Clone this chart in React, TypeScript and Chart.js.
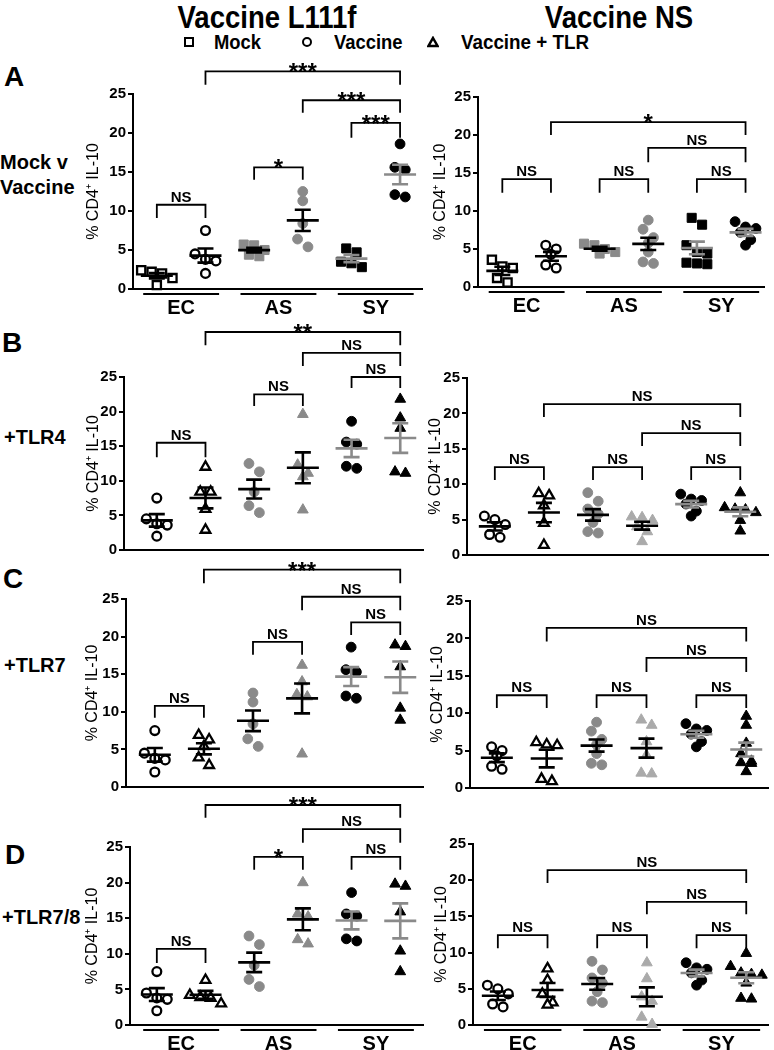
import React, { useEffect, useRef } from "react";
import { Chart, registerables } from "chart.js";

Chart.register(...registerables);

// ---------------- data ----------------
const categories = ["EC", "AS", "SY"];
const yTickValues = [0, 5, 10, 15, 20, 25];
const yAxisTitle = "% CD4\u207A IL-10";

// Vaccine L111f (left column)
const l111fMockEC = [2.2, 2.0, 2.4, 1.4, 0.5];
const l111fMockAS = [5.7, 5.6, 5.0, 4.4, 4.2];
const l111fMockSY = [5.2, 4.7, 3.5, 2.8, 3.3];
const l111fVacEC = [7.5, 4.5, 3.8, 3.6, 2.0];
const l111fVacAS = [12.5, 11.3, 8.4, 6.4, 5.4];
const l111fVacSY = [18.6, 15.6, 15.3, 11.8, 12.1];
const l111fTlr4EC = [12.0, 8.4, 8.4, 5.9, 2.9];
const l111fTlr4AS = [19.6, 12.3, 11.1, 10.6, 5.8];
const l111fTlr4SY = [21.8, 19.1, 17.6, 11.1, 11.3];
const l111fTlr7EC = [6.9, 6.3, 5.4, 3.9, 2.9];
const l111fTlr7AS = [16.2, 14.0, 12.3, 12.0, 4.4];
const l111fTlr7SY = [18.9, 18.7, 16.0, 10.5, 8.9];
const l111fTlr78EC = [6.3, 4.2, 3.9, 3.8, 3.0];
const l111fTlr78AS = [20.0, 15.6, 15.2, 11.4, 12.0];
const l111fTlr78SY = [19.8, 19.5, 15.9, 10.4, 7.5];

// Vaccine NS (right column)
const nsMockEC = [2.7, 2.5, 3.6, 1.2, 0.6];
const nsMockAS = [5.7, 5.5, 5.0, 4.6, 4.4];
const nsMockSY = [9.1, 8.2, 5.5, 4.6, 4.4, 3.2, 3.1, 3.0];
const nsVacEC = [5.0, 5.5, 4.3, 2.9, 2.5];
const nsVacAS = [8.8, 7.6, 6.5, 5.8, 4.6, 3.3, 3.1];
const nsVacSY = [8.6, 7.7, 7.9, 7.2, 6.2, 5.5];
const nsTlr4EC = [8.7, 8.4, 7.0, 4.5, 1.4];
const nsTlr4AS = [5.4, 5.3, 4.9, 4.0, 3.3, 1.9];
const nsTlr4SY = [8.8, 6.7, 6.5, 6.4, 6.0, 4.9, 3.4];
const nsTlr7EC = [5.7, 5.8, 6.1, 0.9, 1.2];
const nsTlr7AS = [9.1, 8.4, 6.2, 4.4, 2.0, 1.9];
const nsTlr7SY = [9.6, 8.4, 6.0, 4.6, 3.6, 3.4, 3.3, 2.2];
const nsTlr78EC = [7.8, 6.2, 4.3, 3.1, 2.8];
const nsTlr78AS = [8.6, 6.4, 3.9, 3.3, 1.1, 0.1];
const nsTlr78SY = [9.9, 8.1, 7.2, 7.0, 6.9, 5.8, 3.7, 3.6];

// significance brackets: [from group, to group, bar value, leg value, label]
type Bracket = [number, number, number, number, string];
const sigL111fA: Bracket[] = [[1, 2, 10.8, 9.1, "NS"], [3, 4, 15.6, 14.0, "*"], [5, 6, 21.3, 19.4, "***"], [4, 6, 24.2, 22.6, "***"], [2, 6, 27.9, 26.2, "***"]];
const sigNsA: Bracket[] = [[1, 2, 14.2, 12.4, "NS"], [3, 4, 14.2, 12.4, "NS"], [5, 6, 14.2, 12.4, "NS"], [4, 6, 18.3, 16.4, "NS"], [2, 6, 21.7, 20.0, "*"]];
const sigL111fB: Bracket[] = [[1, 2, 15.5, 13.4, "NS"], [3, 4, 22.5, 20.8, "NS"], [5, 6, 25.0, 23.4, "NS"], [4, 6, 28.5, 26.6, "NS"], [2, 6, 31.5, 29.6, "**"]];
const sigNsB: Bracket[] = [[1, 2, 12.4, 10.6, "NS"], [3, 4, 12.4, 10.6, "NS"], [5, 6, 12.4, 10.6, "NS"], [4, 6, 17.2, 15.4, "NS"], [2, 6, 21.3, 19.5, "NS"]];
const sigL111fC: Bracket[] = [[1, 2, 10.8, 9.2, "NS"], [3, 4, 19.3, 17.6, "NS"], [5, 6, 21.9, 20.2, "NS"], [4, 6, 25.3, 23.5, "NS"], [2, 6, 28.9, 27.1, "***"]];
const sigNsC: Bracket[] = [[1, 2, 12.4, 10.7, "NS"], [3, 4, 12.4, 10.7, "NS"], [5, 6, 12.4, 10.7, "NS"], [4, 6, 17.4, 15.5, "NS"], [2, 6, 21.4, 19.6, "NS"]];
const sigL111fD: Bracket[] = [[1, 2, 10.7, 8.7, "NS"], [3, 4, 23.6, 21.8, "*"], [5, 6, 23.6, 21.8, "NS"], [4, 6, 27.5, 25.6, "NS"], [2, 6, 30.9, 29.1, "***"]];
const sigNsD: Bracket[] = [[1, 2, 12.4, 10.6, "NS"], [3, 4, 12.4, 10.6, "NS"], [5, 6, 12.4, 10.6, "NS"], [4, 6, 17.0, 15.3, "NS"], [2, 6, 21.4, 19.6, "NS"]];

// ---------------- styles ----------------
const FONT = "'Liberation Sans', Arial, Helvetica, sans-serif";
type Shape = "rect" | "circle" | "triangle";
type Look = { fill: string; stroke: string; open: boolean; bar: string };
const OPEN: Look = { fill: "#ffffff", stroke: "#000000", open: true, bar: "#000000" };
const GRAY: Look = { fill: "#8a8a8a", stroke: "#8a8a8a", open: false, bar: "#000000" };
const LIGHT: Look = { fill: "#aaaaaa", stroke: "#aaaaaa", open: false, bar: "#000000" };
const BLACK: Look = { fill: "#000000", stroke: "#000000", open: false, bar: "#8a8a8a" };

type Group = { values: number[]; shape: Shape; look: Look };
type Geo = { L: number; T: number; R: number; B: number; p1: number; p6: number; titleX: number; top: number; bottom: number };
type PanelSpec = { geo: Geo; groups: Group[]; brackets: Bracket[]; groupLabels: boolean };

const g = (values: number[], shape: Shape, look: Look): Group => ({ values, shape, look });

const panels: PanelSpec[] = [
  {
    geo: { L: 133, T: 94, R: 425, B: 289, p1: 157, p6: 402, titleX: 93, top: 42, bottom: 318 },
    groups: [g(l111fMockEC, "rect", OPEN), g(l111fVacEC, "circle", OPEN), g(l111fMockAS, "rect", GRAY), g(l111fVacAS, "circle", GRAY), g(l111fMockSY, "rect", BLACK), g(l111fVacSY, "circle", BLACK)],
    brackets: sigL111fA, groupLabels: true,
  },
  {
    geo: { L: 478, T: 97, R: 767, B: 287, p1: 502.5, p6: 747.5, titleX: 439.5, top: 67, bottom: 318 },
    groups: [g(nsMockEC, "rect", OPEN), g(nsVacEC, "circle", OPEN), g(nsMockAS, "rect", GRAY), g(nsVacAS, "circle", GRAY), g(nsMockSY, "rect", BLACK), g(nsVacSY, "circle", BLACK)],
    brackets: sigNsA, groupLabels: true,
  },
  {
    geo: { L: 124, T: 377, R: 425, B: 550, p1: 157, p6: 402, titleX: 93, top: 310, bottom: 562 },
    groups: [g(l111fVacEC, "circle", OPEN), g(l111fTlr4EC, "triangle", OPEN), g(l111fVacAS, "circle", GRAY), g(l111fTlr4AS, "triangle", GRAY), g(l111fVacSY, "circle", BLACK), g(l111fTlr4SY, "triangle", BLACK)],
    brackets: sigL111fB, groupLabels: false,
  },
  {
    geo: { L: 467, T: 378, R: 770, B: 555, p1: 495, p6: 742, titleX: 435, top: 348, bottom: 567 },
    groups: [g(nsVacEC, "circle", OPEN), g(nsTlr4EC, "triangle", OPEN), g(nsVacAS, "circle", GRAY), g(nsTlr4AS, "triangle", LIGHT), g(nsVacSY, "circle", BLACK), g(nsTlr4SY, "triangle", BLACK)],
    brackets: sigNsB, groupLabels: false,
  },
  {
    geo: { L: 126, T: 599, R: 425, B: 787, p1: 155, p6: 402, titleX: 92, top: 548, bottom: 799 },
    groups: [g(l111fVacEC, "circle", OPEN), g(l111fTlr7EC, "triangle", OPEN), g(l111fVacAS, "circle", GRAY), g(l111fTlr7AS, "triangle", GRAY), g(l111fVacSY, "circle", BLACK), g(l111fTlr7SY, "triangle", BLACK)],
    brackets: sigL111fC, groupLabels: false,
  },
  {
    geo: { L: 470, T: 601, R: 770, B: 788, p1: 497, p6: 748, titleX: 437, top: 571, bottom: 800 },
    groups: [g(nsVacEC, "circle", OPEN), g(nsTlr7EC, "triangle", OPEN), g(nsVacAS, "circle", GRAY), g(nsTlr7AS, "triangle", LIGHT), g(nsVacSY, "circle", BLACK), g(nsTlr7SY, "triangle", BLACK)],
    brackets: sigNsC, groupLabels: false,
  },
  {
    geo: { L: 130, T: 847, R: 425, B: 1025, p1: 157, p6: 402, titleX: 92, top: 785, bottom: 1050 },
    groups: [g(l111fVacEC, "circle", OPEN), g(l111fTlr78EC, "triangle", OPEN), g(l111fVacAS, "circle", GRAY), g(l111fTlr78AS, "triangle", GRAY), g(l111fVacSY, "circle", BLACK), g(l111fTlr78SY, "triangle", BLACK)],
    brackets: sigL111fD, groupLabels: true,
  },
  {
    geo: { L: 473, T: 844, R: 770, B: 1025, p1: 498, p6: 748, titleX: 440.5, top: 814, bottom: 1050 },
    groups: [g(nsVacEC, "circle", OPEN), g(nsTlr78EC, "triangle", OPEN), g(nsVacAS, "circle", GRAY), g(nsTlr78AS, "triangle", LIGHT), g(nsVacSY, "circle", BLACK), g(nsTlr78SY, "triangle", BLACK)],
    brackets: sigNsD, groupLabels: true,
  },
];

// ---------------- helpers ----------------
function stats(v: number[]) {
  const n = v.length;
  const mean = v.reduce((a, b) => a + b, 0) / n;
  const sd = Math.sqrt(v.reduce((a, b) => a + (b - mean) * (b - mean), 0) / (n - 1));
  return { mean, sem: sd / Math.sqrt(n) };
}

// symmetric spreading of points that would overlap (pixel offsets)
function swarm(values: number[], pxPerY: number, d: number): number[] {
  const order = values.map((_, i) => i).sort((a, b) => values[b] - values[a]);
  const off = new Array(values.length).fill(0);
  let cluster: number[] = [];
  const flush = () => {
    const n = cluster.length;
    cluster.forEach((i, k) => (off[i] = (k - (n - 1) / 2) * d));
    cluster = [];
  };
  for (const i of order) {
    if (cluster.length && (values[cluster[0]] - values[i]) * pxPerY > d * 0.85) flush();
    cluster.push(i);
  }
  flush();
  return off;
}

function PanelChart({ spec }: { spec: PanelSpec }) {
  const ref = useRef<HTMLCanvasElement>(null);
  const geo = spec.geo;
  const canvasLeft = Math.round(geo.titleX - 9);
  const canvasRight = geo.R + 6;
  const w = canvasRight - canvasLeft;
  const h = geo.bottom - geo.top;

  useEffect(() => {
    const unitX = (geo.p6 - geo.p1) / 5;
    const xMin = 1 - (geo.p1 - geo.L) / unitX;
    const xMax = 6 + (geo.R - geo.p6) / unitX;
    const pxPerY = (geo.B - geo.T) / 25;

    const datasets = spec.groups.map((grp, gi) => {
      const pos = gi + 1;
      const offs = swarm(grp.values, pxPerY, 10.5);
      const radius = grp.shape === "rect" ? (grp.look.open ? 5.8 : 6.4) : grp.shape === "triangle" ? (grp.look.open ? 5.6 : 6.2) : grp.look.open ? 4.4 : 4.9;
      return {
        label: `${categories[Math.floor(gi / 2)]}-${gi % 2}`,
        data: grp.values.map((v, i) => ({ x: pos + offs[i] / unitX, y: v })),
        pointStyle: grp.shape,
        pointRadius: radius,
        backgroundColor: grp.look.fill,
        borderColor: grp.look.stroke,
        borderWidth: grp.look.open ? 2.3 : 1,
        showLine: false,
        clip: false as any,
      };
    });

    const overlay = {
      id: "overlay",
      afterDatasetsDraw(chart: any) {
        const ctx: CanvasRenderingContext2D = chart.ctx;
        const xs = chart.scales.x;
        const ys = chart.scales.y;
        ctx.save();
        // mean +/- SEM
        spec.groups.forEach((grp, gi) => {
          const { mean, sem } = stats(grp.values);
          const cx = xs.getPixelForValue(gi + 1);
          const ym = ys.getPixelForValue(mean);
          const yh = ys.getPixelForValue(mean + sem);
          const yl = ys.getPixelForValue(mean - sem);
          ctx.strokeStyle = grp.look.bar;
          ctx.lineWidth = 2.6;
          ctx.beginPath();
          ctx.moveTo(cx - 16, ym);
          ctx.lineTo(cx + 16, ym);
          ctx.moveTo(cx, yh);
          ctx.lineTo(cx, yl);
          ctx.moveTo(cx - 8, yh);
          ctx.lineTo(cx + 8, yh);
          ctx.moveTo(cx - 8, yl);
          ctx.lineTo(cx + 8, yl);
          ctx.stroke();
        });
        // significance brackets
        ctx.strokeStyle = "#000";
        ctx.fillStyle = "#000";
        ctx.lineWidth = 1.8;
        ctx.textAlign = "center";
        spec.brackets.forEach(([a, b, top, leg, label]) => {
          const xa = xs.getPixelForValue(a);
          const xb = xs.getPixelForValue(b);
          const yt = ys.getPixelForValue(top);
          const yl = ys.getPixelForValue(leg);
          ctx.beginPath();
          ctx.moveTo(xa, yl);
          ctx.lineTo(xa, yt);
          ctx.lineTo(xb, yt);
          ctx.lineTo(xb, yl);
          ctx.stroke();
          ctx.textBaseline = "alphabetic";
          if (label.startsWith("*")) {
            ctx.font = `bold 24px ${FONT}`;
            ctx.fillText(label, (xa + xb) / 2, yt + 9);
          } else {
            ctx.font = `bold 15px ${FONT}`;
            ctx.fillText(label, (xa + xb) / 2, yt - 3);
          }
        });
        // category bars and labels
        if (spec.groupLabels) {
          const yb = chart.chartArea.bottom + 5;
          ctx.lineWidth = 2;
          ctx.font = `bold 20px ${FONT}`;
          ctx.textBaseline = "middle";
          categories.forEach((c, ci) => {
            const center = ci * 2 + 1.5;
            ctx.beginPath();
            ctx.moveTo(xs.getPixelForValue(center - 0.78), yb);
            ctx.lineTo(xs.getPixelForValue(center + 0.78), yb);
            ctx.stroke();
            ctx.fillText(c, xs.getPixelForValue(center), yb + 14);
          });
        }
        ctx.restore();
      },
    };

    const chart = new Chart(ref.current as HTMLCanvasElement, {
      type: "scatter",
      data: { datasets: datasets as any },
      options: {
        responsive: false,
        animation: false,
        events: [],
        layout: { padding: { top: geo.T - geo.top, bottom: geo.bottom - geo.B, left: 0, right: canvasRight - geo.R } },
        plugins: { legend: { display: false }, tooltip: { enabled: false } },
        scales: {
          x: {
            type: "linear",
            min: xMin,
            max: xMax,
            ticks: { display: false },
            grid: { display: false },
            border: { display: true, color: "#000", width: 2 },
            afterFit: (s: any) => {
              s.height = 0;
            },
          },
          y: {
            type: "linear",
            min: 0,
            max: 25,
            afterBuildTicks: (s: any) => {
              s.ticks = yTickValues.map((v) => ({ value: v }));
            },
            ticks: { color: "#000", font: { family: FONT, size: 15, weight: "bold" }, padding: 2 },
            grid: { drawOnChartArea: false, drawTicks: true, tickLength: 5, color: "#000", lineWidth: 2 },
            border: { display: true, color: "#000", width: 2 },
            title: { display: true, text: yAxisTitle, color: "#000", font: { family: FONT, size: 16 }, padding: 0 },
            afterFit: (s: any) => {
              s.width = geo.L - canvasLeft;
            },
          },
        },
      } as any,
      plugins: [overlay],
    });
    return () => chart.destroy();
  }, []);

  return (
    <canvas
      ref={ref}
      width={w}
      height={h}
      style={{ position: "absolute", left: canvasLeft, top: geo.top, width: w, height: h }}
    />
  );
}

function Text({ x, y, text, size, align = "left", sx = 1 }: { x: number; y: number; text: string; size: number; align?: "left" | "center"; sx?: number }) {
  const style: React.CSSProperties = {
    position: "absolute",
    left: x,
    top: y - size * 0.6,
    fontSize: size,
    lineHeight: `${size * 1.2}px`,
    fontFamily: FONT,
    fontWeight: "bold",
    whiteSpace: "nowrap",
    color: "#000",
    transform: align === "center" ? `translateX(-50%) scaleX(${sx})` : `scaleX(${sx})`,
    transformOrigin: align === "center" ? "center" : "left",
  };
  return <div style={style}>{text}</div>;
}

export default function App() {
  return (
    <div style={{ position: "absolute", left: 0, top: 0, width: 774, height: 1050, overflow: "hidden", background: "#fff" }}>
      <Text x={267} y={17} text="Vaccine L111f" size={32} align="center" sx={0.86} />
      <Text x={619} y={17} text="Vaccine NS" size={32} align="center" sx={0.86} />
      {/* legend */}
      <div style={{ position: "absolute", left: 184, top: 37, width: 6, height: 6, border: "2.5px solid #000", background: "#fff" }} />
      <Text x={214} y={42} text="Mock" size={20} sx={0.92} />
      <div style={{ position: "absolute", left: 302, top: 37, width: 6, height: 6, border: "2.5px solid #000", borderRadius: "50%", background: "#fff" }} />
      <Text x={334} y={42} text="Vaccine" size={20} sx={0.92} />
      <svg style={{ position: "absolute", left: 427, top: 36 }} width={12} height={12}>
        <polygon points="6,2 10.5,10 1.5,10" fill="#fff" stroke="#000" strokeWidth={2.5} strokeLinejoin="miter" />
      </svg>
      <Text x={461} y={42} text="Vaccine + TLR" size={20} sx={0.94} />
      {/* panel letters and row labels */}
      <Text x={4} y={77} text="A" size={28} />
      <Text x={0} y={162} text="Mock v" size={20} />
      <Text x={0} y={187} text="Vaccine" size={20} />
      <Text x={2} y={343} text="B" size={28} />
      <Text x={4} y={437} text="+TLR4" size={20} />
      <Text x={3} y={579} text="C" size={28} />
      <Text x={4} y={665} text="+TLR7" size={20} />
      <Text x={5} y={855} text="D" size={28} />
      <Text x={2} y={917} text="+TLR7/8" size={20} />
      {panels.map((p, i) => (
        <PanelChart key={i} spec={p} />
      ))}
    </div>
  );
}
